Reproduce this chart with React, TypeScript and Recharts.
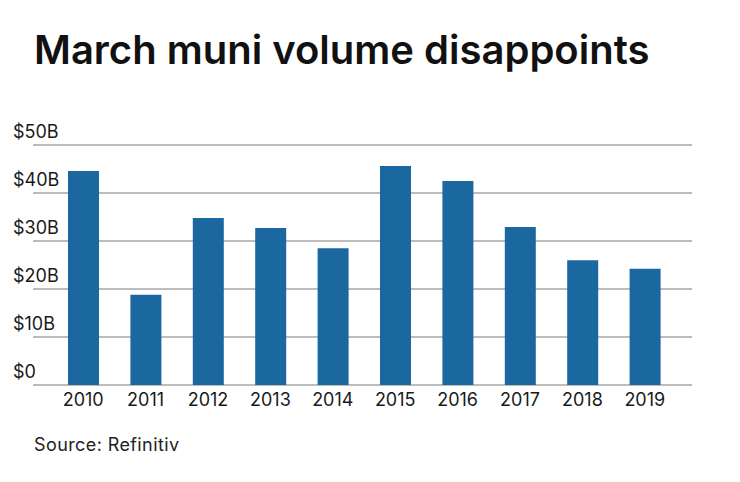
import React from "react";
import { BarChart, Bar, XAxis, YAxis, CartesianGrid } from "recharts";

const years = ["2010", "2011", "2012", "2013", "2014", "2015", "2016", "2017", "2018", "2019"];
const volumes = [44.6, 18.8, 34.8, 32.7, 28.5, 45.6, 42.5, 32.9, 26.0, 24.2];
const yTicks = [0, 10, 20, 30, 40, 50];
const yTickLabels = ["$0", "$10B", "$20B", "$30B", "$40B", "$50B"];

const data = years.map((y, i) => ({ year: y, volume: volumes[i] }));

const FONT = "Inter, Lato, sans-serif";

const YTick = (props: any) => {
  const { y, payload } = props;
  const idx = yTicks.indexOf(payload.value);
  return (
    <text x={13} y={y - 7} textAnchor="start" fontFamily={FONT} fontSize={18} fill="#1a1a1a">
      {yTickLabels[idx]}
    </text>
  );
};

const XTick = (props: any) => {
  const { x, y, payload } = props;
  return (
    <text x={x} y={y + 13} textAnchor="middle" fontFamily={FONT} fontSize={18} fill="#1a1a1a">
      {payload.value}
    </text>
  );
};

export default function App() {
  return (
    <div style={{ position: "absolute", left: 0, top: 0, width: 740, height: 482, background: "#fff" }}>
      <div
        style={{
          position: "absolute",
          left: 34,
          top: 25,
          fontFamily: FONT,
          fontWeight: 600,
          fontSize: 40,
          color: "#111",
          whiteSpace: "nowrap",
          lineHeight: "50px",
        }}
      >
        March muni volume disappoints
      </div>
      <BarChart
        width={740}
        height={482}
        data={data}
        margin={{ top: 145, right: 48, bottom: 67, left: 32 }}
      >
        <CartesianGrid horizontal vertical={false} stroke="#7a7a7a" strokeWidth={1} />
        <XAxis
          dataKey="year"
          height={30}
          axisLine={false}
          tickLine={false}
          tick={<XTick />}
          interval={0}
          padding={{ left: 19, right: 16 }}
        />
        <YAxis
          width={1}
          domain={[0, 50]}
          ticks={yTicks}
          axisLine={false}
          tickLine={false}
          tick={<YTick />}
          interval={0}
        />
        <Bar dataKey="volume" fill="#1b67a0" barSize={31} isAnimationActive={false} />
      </BarChart>
      <div
        style={{
          position: "absolute",
          left: 34,
          top: 434,
          fontFamily: FONT,
          fontSize: 18,
          letterSpacing: 0.4,
          color: "#222",
          whiteSpace: "nowrap",
        }}
      >
        Source: Refinitiv
      </div>
    </div>
  );
}
